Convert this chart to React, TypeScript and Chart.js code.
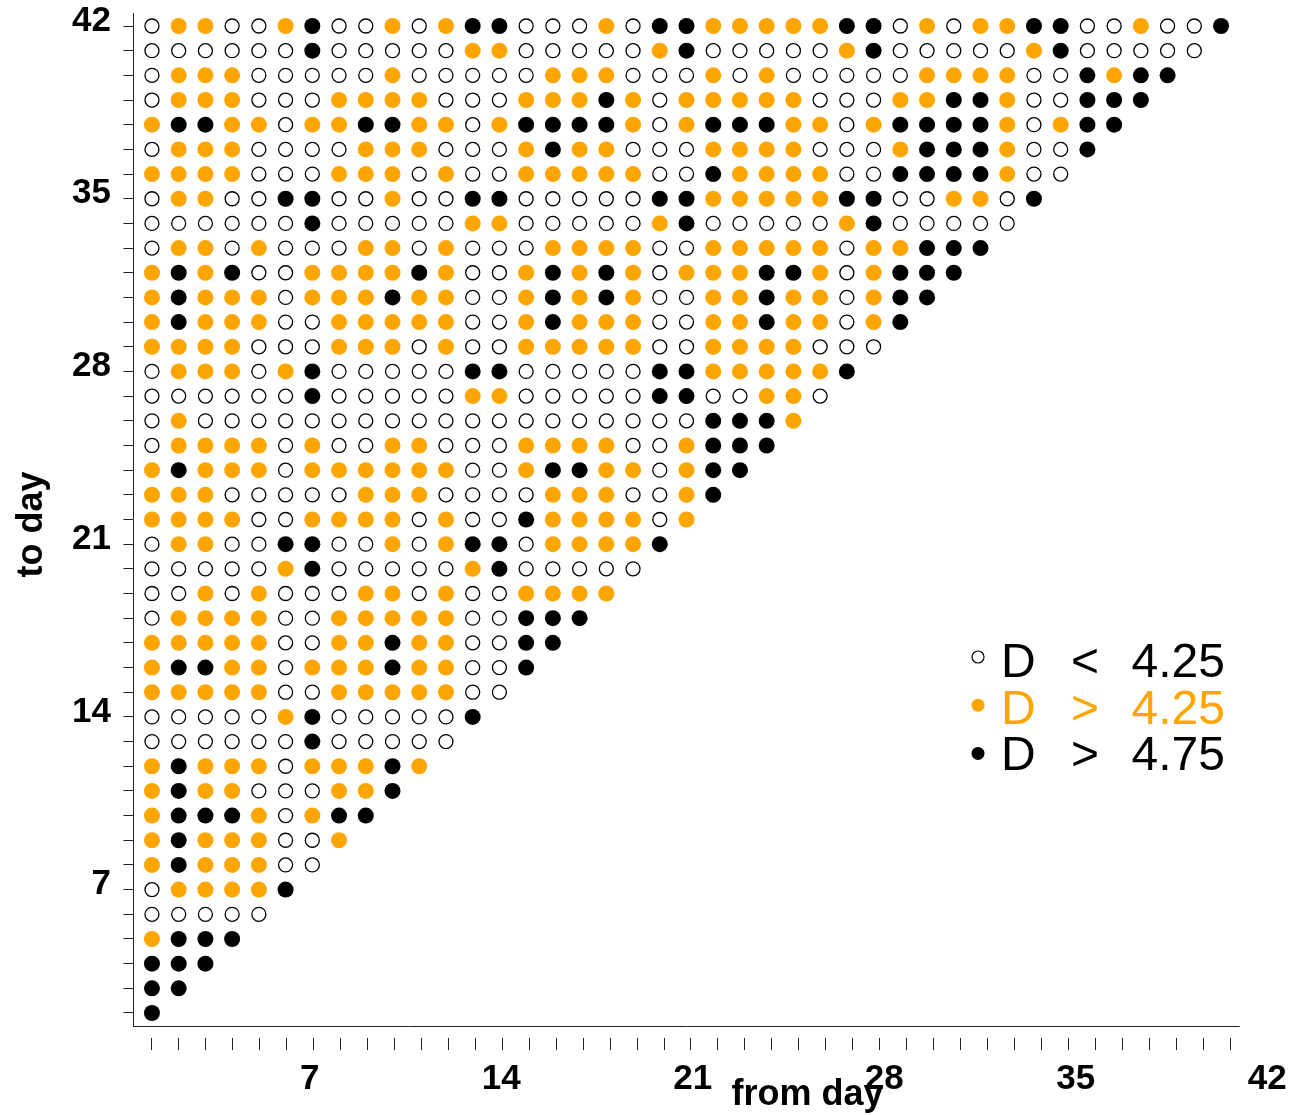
import React, { useEffect, useRef } from 'react';
import { Chart, registerables } from 'chart.js';

Chart.register(...registerables);

const FONT = '"Liberation Sans", Arial, Helvetica, sans-serif';

// "to day" of each row (top row first) and "from day" of each column
const toDays = [42, 41, 40, 39, 38, 37, 36, 35, 34, 33, 32, 31, 30, 29, 28, 27, 26, 25, 24, 23, 22, 21, 20, 19, 18, 17, 16, 15, 14, 13, 12, 11, 10, 9, 8, 7, 6, 5, 4, 3, 2];
const fromDays = [1, 2, 3, 4, 5, 6, 7, 8, 9, 10, 11, 12, 13, 14, 15, 16, 17, 18, 19, 20, 21, 22, 23, 24, 25, 26, 27, 28, 29, 30, 31, 32, 33, 34, 35, 36, 37, 38, 39, 40, 41];
const xTickLabels = [7, 14, 21, 28, 35, 42];
const yTickLabels = [7, 14, 21, 28, 35, 42];

// class of each (to day, from day) cell: 0 = D < 4.25, 1 = D > 4.25, 2 = D > 4.75
// row i belongs to toDays[i]; character j belongs to fromDays[j]
const classRows = [
  '01100 12001 01220 00102 21111 12201 01122 00100 2',
  '00000 02000 00110 00001 20000 01200 00012 00000',
  '01110 00001 00000 11100 01010 00001 11100 2122',
  '01110 00111 10001 11210 11111 00011 22100 222',
  '12211 01122 11012 22210 12221 10122 22101 22',
  '01110 00011 10001 21100 01111 00012 22100 2',
  '11110 00111 01001 11110 02111 10022 22100',
  '01100 22001 00220 00002 21111 12200 1102',
  '00000 02000 00110 00001 20000 01200 000',
  '01101 00011 01000 11110 01111 10112 22',
  '12120 01111 21001 21210 11122 10122 2',
  '12111 01112 11001 21210 01121 10122',
  '12111 00111 11001 21110 01121 1012',
  '11110 00111 01001 11110 01111 000',
  '01110 12000 00220 00002 21111 12',
  '00000 02000 00110 00002 20011 0',
  '01000 00000 00000 00000 02221',
  '01111 01001 10001 11100 1222',
  '12111 01111 11001 22110 122',
  '11100 00011 10000 11100 12',
  '11110 01111 01002 11110 1',
  '01100 22001 01220 11112',
  '00000 12000 00120 0000',
  '00101 00011 01001 111',
  '01111 00111 11002 22',
  '11111 00112 11002 2',
  '12211 01112 11002',
  '11111 00111 1100',
  '00000 12000 002',
  '00000 02000 00',
  '12111 01112 1',
  '12110 00112',
  '12221 0122',
  '12111 001',
  '12111 00',
  '01111 2',
  '00000',
  '1222',
  '222',
  '22',
  '2',
];

const legendSymbols = ['<', '>', '>'];
const legendValues = ['4.25', '4.25', '4.75'];
const classFill = ['#ffffff', '#ffa500', '#000000'];
const classTextColor = ['#000000', '#ffa500', '#000000'];

const xAxisLineEnd = 41.7;

const decorPlugin = {
  id: 'decor',
  afterDraw(chart: any) {
    const { ctx, chartArea, scales } = chart;
    ctx.save();
    // bottom axis line
    const yLine = Math.round(chartArea.bottom) + 0.5;
    ctx.strokeStyle = '#222';
    ctx.lineWidth = 1;
    ctx.beginPath();
    ctx.moveTo(chartArea.left, yLine);
    ctx.lineTo(scales.x.getPixelForValue(xAxisLineEnd), yLine);
    ctx.stroke();

    // axis titles
    ctx.fillStyle = '#000';
    ctx.font = `bold 36px ${FONT}`;
    ctx.textAlign = 'center';
    ctx.textBaseline = 'alphabetic';
    ctx.fillText('from day', 807.5, 1105);
    ctx.save();
    ctx.translate(42, 524.5);
    ctx.rotate(-Math.PI / 2);
    ctx.fillText('to day', 0, 0);
    ctx.restore();

    // legend
    legendValues.forEach((val, k) => {
      const my = 657 + k * 48.2;
      const base = 677 + k * 46.6;
      ctx.beginPath();
      if (k === 0) {
        ctx.arc(978, my, 6, 0, Math.PI * 2);
        ctx.fillStyle = '#ffffff';
        ctx.fill();
        ctx.lineWidth = 1.2;
        ctx.strokeStyle = '#000';
        ctx.stroke();
      } else {
        ctx.arc(978, my, 6.5, 0, Math.PI * 2);
        ctx.fillStyle = classFill[k];
        ctx.fill();
      }
      ctx.fillStyle = classTextColor[k];
      ctx.font = `48px ${FONT}`;
      ctx.textBaseline = 'alphabetic';
      ctx.textAlign = 'left';
      ctx.fillText('D', 1001, base);
      ctx.textAlign = 'center';
      ctx.fillText(legendSymbols[k], 1085, base);
      ctx.textAlign = 'left';
      ctx.fillText(val, 1131.5, base);
    });
    ctx.restore();
  },
};

export default function App() {
  const ref = useRef<HTMLCanvasElement>(null);

  useEffect(() => {
    const canvas = ref.current;
    if (!canvas) return;

    const points: { x: number; y: number }[][] = [[], [], []];
    classRows.forEach((row, i) => {
      const codes = row.replace(/\s/g, '');
      for (let j = 0; j < codes.length; j++) {
        points[Number(codes[j])].push({ x: fromDays[j], y: toDays[i] });
      }
    });

    const datasets = [0, 1, 2].map((k) => ({
      label: `D ${legendSymbols[k]} ${legendValues[k]}`,
      data: points[k],
      xAxisID: 'x',
      yAxisID: 'y',
      showLine: false,
      pointStyle: 'circle',
      pointRadius: k === 0 ? 7 : 8,
      pointHoverRadius: k === 0 ? 7 : 8,
      pointBackgroundColor: classFill[k],
      pointBorderColor: '#000000',
      pointBorderWidth: k === 0 ? 1.3 : 0,
      pointHoverBorderWidth: k === 0 ? 1.3 : 0,
    }));

    const tickFont = { family: FONT, size: 35, weight: 'bold' as const };

    const chart = new Chart(canvas, {
      type: 'scatter',
      data: { datasets },
      plugins: [decorPlugin],
      options: {
        animation: false,
        responsive: false,
        devicePixelRatio: 1,
        events: [],
        layout: { padding: { top: 13, right: 6, bottom: 25, left: 0 } },
        plugins: {
          legend: { display: false },
          tooltip: { enabled: false },
        },
        scales: {
          x: { type: 'linear', position: 'bottom', display: false, min: 0.2905, max: 43.494 },
          y: {
            type: 'linear',
            position: 'left',
            min: 1.485,
            max: 42.527,
            afterBuildTicks: (s: any) => {
              s.ticks = toDays.slice().reverse().map((v) => ({ value: v }));
            },
            afterFit: (s: any) => {
              s.width = 133;
              s.paddingTop = 0;
              s.paddingBottom = 0;
            },
            ticks: {
              autoSkip: false,
              padding: 4,
              labelOffset: -5,
              color: '#000',
              font: tickFont,
              callback: (v: any) => (yTickLabels.includes(Number(v)) ? String(v) : ''),
            },
            grid: {
              drawOnChartArea: false,
              drawTicks: true,
              tickLength: 18,
              tickColor: '#222',
              tickWidth: 1,
              tickBorderDash: [0, 8.5, 9.5, 100],
            },
            border: { display: true, color: '#222', width: 1 },
          },
          xTicks: {
            type: 'linear',
            position: 'bottom',
            weight: 1,
            min: 0.308,
            max: 43.128,
            afterBuildTicks: (s: any) => {
              s.ticks = fromDays.map((v) => ({ value: v }));
            },
            afterFit: (s: any) => {
              s.height = 24.3;
              s.paddingLeft = 0;
              s.paddingRight = 0;
            },
            ticks: { display: false },
            grid: {
              drawOnChartArea: false,
              drawTicks: true,
              tickLength: 24.3,
              tickColor: '#222',
              tickWidth: 1,
              tickBorderDash: [0, 12, 12.3, 100],
            },
            border: { display: false },
          },
          xLabels: {
            type: 'linear',
            position: 'bottom',
            weight: 2,
            min: 0.54,
            max: 42.75,
            afterBuildTicks: (s: any) => {
              s.ticks = xTickLabels.map((v) => ({ value: v }));
            },
            afterFit: (s: any) => {
              s.height = 40;
              s.paddingLeft = 0;
              s.paddingRight = 0;
            },
            ticks: {
              autoSkip: false,
              maxRotation: 0,
              minRotation: 0,
              padding: 0,
              color: '#000',
              font: tickFont,
              callback: (v: any) => String(v),
            },
            grid: { display: false },
            border: { display: false },
          },
        } as any,
      },
    } as any);

    return () => chart.destroy();
  }, []);

  return (
    <div style={{ position: 'fixed', left: 0, top: 0, width: 1296, height: 1115, background: '#ffffff' }}>
      <canvas ref={ref} width={1296} height={1115} style={{ display: 'block', width: 1296, height: 1115 }} />
    </div>
  );
}
